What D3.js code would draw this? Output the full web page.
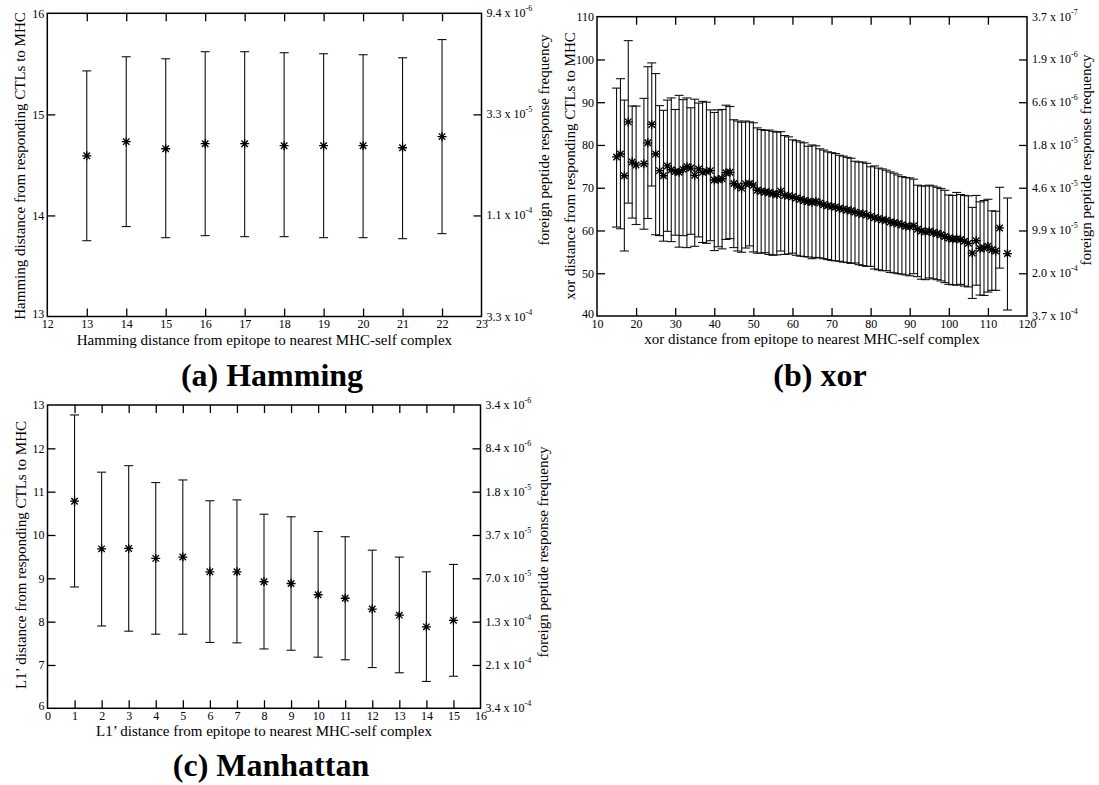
<!DOCTYPE html>
<html><head><meta charset="utf-8">
<script src="https://cdn.jsdelivr.net/npm/d3@7"></script>
<style>
body{margin:0;background:#fff;}
text{font-family:"Liberation Serif","Times New Roman",serif;fill:#000;}
</style></head>
<body>
<script>
// ---------- Panel (a) Hamming ----------
const hamX = [13,14,15,16,17,18,19,20,21,22];
const hamMean = [14.59,14.73,14.66,14.71,14.71,14.69,14.69,14.69,14.67,14.78];
const hamUpper = [15.43,15.57,15.55,15.62,15.62,15.61,15.60,15.59,15.56,15.74];
const hamLower = [13.75,13.89,13.78,13.80,13.79,13.79,13.78,13.78,13.77,13.82];
const hamXTicks = [12,13,14,15,16,17,18,19,20,21,22,23];
const hamYTicks = [13,14,15,16];
const hamRightLabels = [["3.3 x 10","-4"],["1.1 x 10","-4"],["3.3 x 10","-5"],["9.4 x 10","-6"]];

// ---------- Panel (b) xor ----------
const xorX = [15,16,17,18,19,20,22,23,24,25,26,27,28,29,30,31,32,33,34,35,36,37,38,39,40,41,42,43,44,45,46,47,48,49,50,51,52,53,54,55,56,57,58,59,60,61,62,63,64,65,66,67,68,69,70,71,72,73,74,75,76,77,78,79,80,81,82,83,84,85,86,87,88,89,90,91,92,93,94,95,96,97,98,99,100,101,102,103,104,105,106,107,108,109,110,111,112,113,115];
const xorMean = [77.2,77.9,72.8,85.4,76.0,75.3,75.6,80.5,84.8,77.9,74.0,72.8,75.1,74.2,73.8,73.6,74.3,74.9,74.6,72.9,74.4,73.6,73.8,74.0,71.8,71.9,72.1,73.5,73.6,71.0,70.4,69.9,70.9,71.0,70.6,69.4,69.2,69.0,68.9,68.6,68.4,69.2,68.2,68.1,67.9,67.6,67.3,67.0,66.8,66.6,66.8,66.4,66.0,65.8,65.6,65.5,65.2,65.0,64.8,64.6,64.3,64.0,63.9,63.6,63.3,63.0,62.8,62.5,62.4,62.0,61.8,61.6,61.3,61.0,60.9,61.1,60.3,59.9,59.7,59.8,59.5,59.3,59.0,58.6,58.2,58.0,58.0,57.9,57.5,57.0,54.7,57.6,55.8,55.9,56.3,55.5,55.2,60.6,54.6];
const xorUpper = [93.3,95.5,90.5,104.4,89.1,89.1,90.9,98.3,99.2,96.7,89.2,88.1,90.5,91.0,88.3,91.6,90.6,91.0,88.7,90.7,89.8,90.2,90.0,88.2,87.6,88.2,88.3,89.3,89.0,85.9,85.6,85.3,85.6,85.4,85.2,84.0,83.6,83.4,83.5,83.2,83.0,83.1,82.2,81.9,81.2,81.0,80.7,80.5,79.7,80.0,79.8,79.1,78.8,78.4,78.2,78.0,77.6,77.4,77.1,76.9,76.2,76.0,76.0,75.7,74.9,75.1,74.6,74.4,74.1,73.7,73.4,73.0,72.6,72.4,72.3,72.0,70.6,70.4,70.4,70.6,70.4,70.1,69.8,69.4,68.3,68.2,68.9,68.4,68.2,68.1,65.4,68.2,66.7,67.0,67.3,64.6,64.5,70.1,67.6];
const xorLower = [60.8,60.4,55.2,66.4,62.9,61.4,60.3,62.8,70.4,59.0,58.8,57.5,59.8,57.4,58.9,56.1,58.8,56.0,59.1,56.3,58.5,57.2,57.0,57.6,55.3,56.2,55.7,57.9,58.1,56.0,55.2,54.9,55.9,56.4,55.0,54.7,54.7,54.8,54.4,54.2,54.3,55.2,54.4,54.5,54.7,54.2,54.0,53.9,53.8,53.4,53.7,53.6,53.4,53.2,53.0,52.9,52.8,52.6,52.5,52.3,52.4,52.0,51.8,51.6,51.6,51.0,50.8,50.6,50.6,50.2,50.1,49.9,49.8,49.6,49.4,49.9,49.2,48.6,48.5,48.9,48.7,48.5,48.2,47.8,47.4,47.3,47.2,47.4,47.0,46.8,44.1,47.2,44.9,44.8,45.6,46.0,46.0,51.2,41.4];
const xorXTicks = [10,20,30,40,50,60,70,80,90,100,110,120];
const xorYTicks = [40,50,60,70,80,90,100,110];
const xorRightLabels = [["3.7 x 10","-4"],["2.0 x 10","-4"],["9.9 x 10","-5"],["4.6 x 10","-5"],["1.8 x 10","-5"],["6.6 x 10","-6"],["1.9 x 10","-6"],["3.7 x 10","-7"]];

// ---------- Panel (c) Manhattan ----------
const manX = [1,2,3,4,5,6,7,8,9,10,11,12,13,14,15];
const manMean = [10.78,9.68,9.69,9.46,9.49,9.15,9.15,8.92,8.88,8.62,8.54,8.29,8.15,7.88,8.03];
const manUpper = [12.77,11.45,11.60,11.21,11.27,10.79,10.81,10.48,10.42,10.08,9.96,9.65,9.49,9.15,9.32];
const manLower = [8.80,7.90,7.78,7.71,7.71,7.52,7.51,7.37,7.34,7.18,7.12,6.94,6.82,6.62,6.74];
const manXTicks = [0,1,2,3,4,5,6,7,8,9,10,11,12,13,14,15,16];
const manYTicks = [6,7,8,9,10,11,12,13];
const manRightLabels = [["3.4 x 10","-4"],["2.1 x 10","-4"],["1.3 x 10","-4"],["7.0 x 10","-5"],["3.7 x 10","-5"],["1.8 x 10","-5"],["8.4 x 10","-6"],["3.4 x 10","-6"]];

const W = 1099, H = 785;
const svg = d3.select("body").append("svg").attr("width", W).attr("height", H);

function drawPanel(o) {
  const x = d3.scaleLinear().domain(o.xDom).range([o.left, o.right]);
  const y = d3.scaleLinear().domain(o.yDom).range([o.bottom, o.top]);
  const g = svg.append("g");
  const T = 8;
  const inner = o.xTicks.slice(1, -1);
  const innerY = o.yTicks.slice(1, -1);

  const ax = g.append("g").attr("transform", `translate(0,${o.bottom})`)
    .call(d3.axisBottom(x).tickValues(o.xTicks).tickSizeInner(-T).tickSizeOuter(0).tickPadding(3).tickFormat(d3.format("d")));
  ax.selectAll(".tick line").filter(d => !inner.includes(d)).remove();
  g.append("g").attr("transform", `translate(0,${o.top})`)
    .call(d3.axisTop(x).tickValues(inner).tickSizeInner(-T).tickSizeOuter(0).tickFormat(""));
  const ay = g.append("g").attr("transform", `translate(${o.left},0)`)
    .call(d3.axisLeft(y).tickValues(o.yTicks).tickSizeInner(-T).tickSizeOuter(0).tickPadding(3).tickFormat(d3.format("d")));
  ay.selectAll(".tick line").filter(d => !innerY.includes(d)).remove();
  ay.selectAll(".tick text").filter(d => d === o.yTicks[0]).attr("dy", "0.1em");
  g.append("g").attr("transform", `translate(${o.right},0)`)
    .call(d3.axisRight(y).tickValues(innerY).tickSizeInner(-T).tickSizeOuter(0).tickFormat(""));
  g.selectAll(".domain").remove();
  g.selectAll(".tick line").attr("stroke", "#000").attr("stroke-width", 1.3);
  g.selectAll(".tick text").attr("font-family", "Liberation Serif, Times New Roman, serif").attr("font-size", 12).attr("fill", "#000");

  const rl = g.append("g").selectAll("text").data(o.yTicks).join("text")
    .attr("x", o.right + 5).attr("y", d => y(d) + 4).attr("font-size", 12);
  rl.append("tspan").text((d, i) => o.rightLabels[i][0]);
  rl.append("tspan").attr("font-size", 8).attr("dy", -6).text((d, i) => o.rightLabels[i][1]);

  g.append("rect").attr("x", o.left).attr("y", o.top)
    .attr("width", o.right - o.left).attr("height", o.bottom - o.top)
    .attr("fill", "none").attr("stroke", "#000").attr("stroke-width", 1.5);

  const cw = 4.5, r = 4.5;
  const bars = g.append("g").attr("stroke", "#111").attr("stroke-width", 1.1).attr("fill", "none");
  o.xs.forEach((xv, i) => {
    const px = x(xv);
    bars.append("line").attr("x1", px).attr("x2", px).attr("y1", y(o.lo[i])).attr("y2", y(o.hi[i]));
    bars.append("line").attr("x1", px - cw).attr("x2", px + cw).attr("y1", y(o.hi[i])).attr("y2", y(o.hi[i]));
    bars.append("line").attr("x1", px - cw).attr("x2", px + cw).attr("y1", y(o.lo[i])).attr("y2", y(o.lo[i]));
  });
  const sym = g.append("g").attr("stroke", "#000").attr("stroke-width", 1.35).attr("fill", "none");
  o.xs.forEach((xv, i) => {
    const px = x(xv), py = y(o.mean[i]);
    const d = r * 0.72;
    sym.append("path").attr("d",
      `M${px - r},${py}H${px + r}M${px},${py - r}V${py + r}M${px - d},${py - d}L${px + d},${py + d}M${px - d},${py + d}L${px + d},${py - d}`);
  });

  g.append("text").attr("x", (o.left + o.right) / 2).attr("y", o.bottom + 28)
    .attr("text-anchor", "middle").attr("font-size", 15).text(o.xTitle);
  g.append("text").attr("transform", `translate(${o.left - 22},${o.yTitleC}) rotate(-90)`)
    .attr("text-anchor", "middle").attr("font-size", 15).text(o.yTitle);
  g.append("text").attr("transform", `translate(${o.rTitleX},${o.rTitleC}) rotate(-90)`)
    .attr("text-anchor", "middle").attr("font-size", 15).text("foreign peptide response frequency");
  g.append("text").attr("x", o.capX).attr("y", o.capY)
    .attr("text-anchor", "middle").attr("font-size", 32).attr("font-weight", "bold").text(o.caption);
}

drawPanel({
  left: 47.3, right: 481.5, top: 13.3, bottom: 316.5,
  xDom: [12, 23], yDom: [13, 16],
  xTicks: hamXTicks, yTicks: hamYTicks, rightLabels: hamRightLabels,
  xs: hamX, mean: hamMean, hi: hamUpper, lo: hamLower,
  xTitle: "Hamming distance from epitope to nearest MHC-self complex",
  yTitle: "Hamming distance from responding CTLs to MHC", yTitleC: 166,
  rTitleX: 549, rTitleC: 140,
  caption: "(a) Hamming", capX: 272, capY: 386
});
drawPanel({
  left: 597, right: 1027, top: 16.7, bottom: 316,
  xDom: [10, 120], yDom: [40, 110],
  xTicks: xorXTicks, yTicks: xorYTicks, rightLabels: xorRightLabels,
  xs: xorX, mean: xorMean, hi: xorUpper, lo: xorLower,
  xTitle: "xor distance from epitope to nearest MHC-self complex",
  yTitle: "xor distance from responding CTLs to MHC", yTitleC: 166,
  rTitleX: 1091, rTitleC: 160,
  caption: "(b) xor", capX: 820, capY: 386
});
drawPanel({
  left: 47.5, right: 480.5, top: 405, bottom: 708.3,
  xDom: [0, 16], yDom: [6, 13],
  xTicks: manXTicks, yTicks: manYTicks, rightLabels: manRightLabels,
  xs: manX, mean: manMean, hi: manUpper, lo: manLower,
  xTitle: "L1\u2019 distance from epitope to nearest MHC-self complex",
  yTitle: "L1\u2019 distance from responding CTLs to MHC", yTitleC: 555,
  rTitleX: 548, rTitleC: 552,
  caption: "(c) Manhattan", capX: 271, capY: 776
});
</script>
</body></html>
